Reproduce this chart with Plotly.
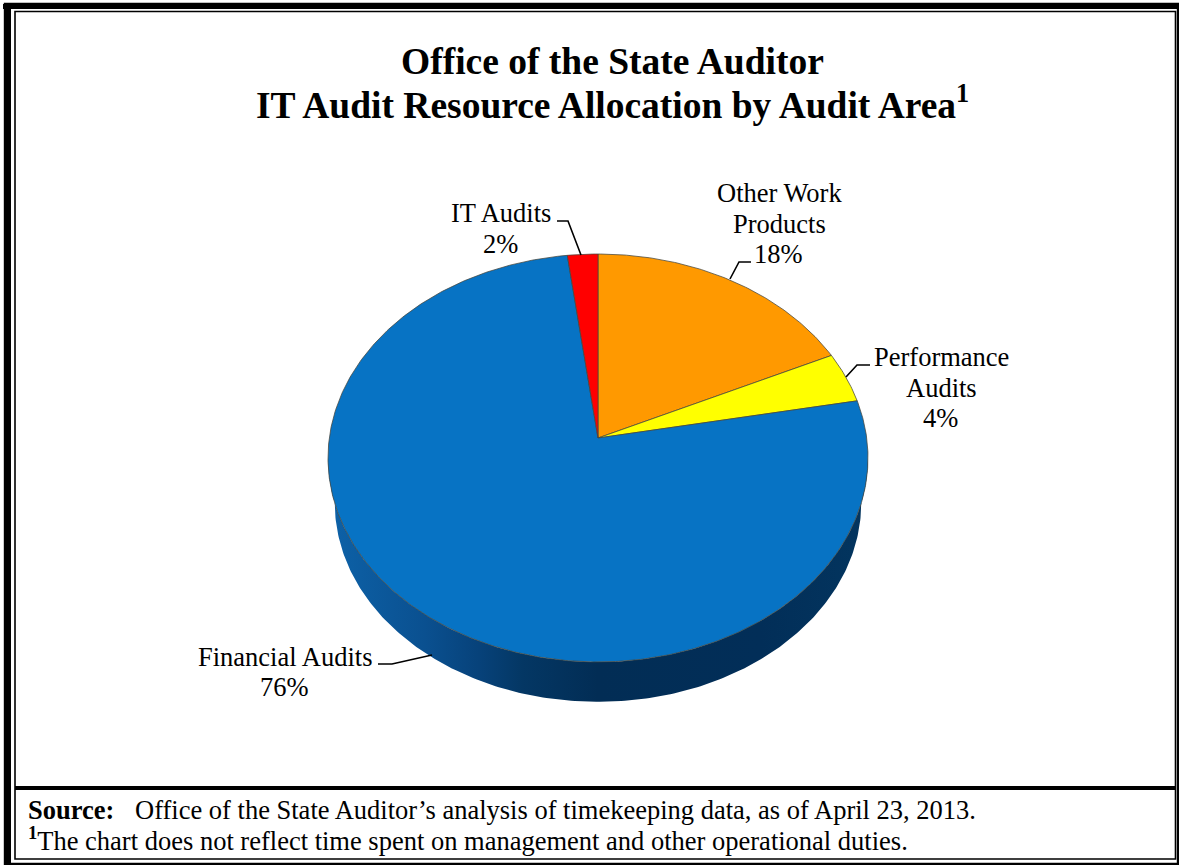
import numpy as np
import plotly.graph_objects as go

# Audit areas, clockwise from twelve o'clock
areas = ["Other Work Products", "Performance Audits", "Financial Audits", "IT Audits"]
shares = [18, 4, 76, 2]
slice_colors = ["#ff9900", "#ffff00", "#0773c4", "#ff0000"]

SERIF = "Liberation Serif"

# Tilted disc seen in perspective
CX, CY = 598, 438
A, B, K = 268.7, 202.0, 0.098
# The lower rim is slightly smaller and sits below the top face
LOWER_SCALE, LOWER_SHIFT = 0.975, 56.45


def rim(t):
    """Project angle t (radians clockwise from the far point) onto the page."""
    d = 1 + K * np.cos(t)
    return CX + A * np.sin(t) / d, CY - B * np.cos(t) / d


fig = go.Figure()

# Side wall: lower rim joined to the front half of the top face
t_side = np.arccos(-K)
t_front = np.linspace(t_side, 2 * np.pi - t_side, 240)
fx, fy = rim(t_front)
lx = CX + LOWER_SCALE * (fx - CX)
ly = LOWER_SCALE * fy + LOWER_SHIFT
fig.add_trace(go.Scatter(
    x=np.concatenate([lx, fx[::-1]]), y=np.concatenate([ly, fy[::-1]]),
    mode="lines", fill="toself",
    line=dict(width=0, color="#02305c"),
    fillgradient=dict(
        type="horizontal",
        colorscale=[[0, "#0d62a8"], [0.18, "#0a5090"], [0.28, "#07427a"], [0.36, "#043764"],
                    [0.5, "#022d55"], [0.8, "#022e58"], [1, "#03355f"]],
    ),
    hoverinfo="skip", showlegend=False,
))

# Top face wedges computed from the shares
edges = np.cumsum([0] + shares) / sum(shares) * 2 * np.pi
for name, share, color, t0, t1 in zip(areas, shares, slice_colors, edges[:-1], edges[1:]):
    t = np.linspace(t0, t1, max(8, int(share * 6)))
    px, py = rim(t)
    fig.add_trace(go.Scatter(
        x=np.concatenate([[CX], px, [CX]]), y=np.concatenate([[CY], py, [CY]]),
        mode="lines", fill="toself", fillcolor=color,
        line=dict(width=1, color="rgba(70,70,60,0.75)"),
        name=name, hovertemplate=f"{name}: {share}%<extra></extra>", showlegend=False,
    ))

# Double-rule page frame and the divider above the source note
rects = [
    (5, 4, 1178, 864, 2.4),
    (15, 11.5, 1175.5, 859, 1.6),
]
shapes = [
    dict(type="rect", x0=x0, y0=y0, x1=x1, y1=y1, xref="x", yref="y",
         line=dict(color="black", width=w), layer="above")
    for x0, y0, x1, y1, w in rects
]
# Heavier top and left outer rules
shapes += [
    dict(type="line", x0=3, x1=1178, y0=6.5, y1=6.5, line=dict(color="black", width=5)),
    dict(type="line", x0=8.5, x1=8.5, y0=4, y1=865, line=dict(color="black", width=5)),
    dict(type="line", x0=15, x1=1175, y0=788, y1=788, line=dict(color="black", width=4)),
]

# Leader lines from the labels to their slices
leaders = [
    "M557,221 L568,221 L581,255",
    "M751,262 L739,262 L730,279",
    "M870,365 L857,365 L846,377",
    "M378,664 L392,664 L432,655",
]
for path in leaders:
    shapes.append(dict(type="path", path=path, line=dict(color="black", width=1.6)))

# Text placed on the page
texts = [
    (612, 61, "<b>Office of the State Auditor</b>", 37.5, "center"),
    (612, 102, "<b>IT Audit Resource Allocation by Audit Area<sup>1</sup></b>", 37.5, "center"),
    (501, 212.6, "IT Audits", 26.5, "center"),
    (500, 243.6, "2%", 26.5, "center"),
    (779, 192.6, "Other Work", 26.5, "center"),
    (779, 223.6, "Products", 26.5, "center"),
    (778, 253.6, "18%", 26.5, "center"),
    (941.5, 356.6, "Performance", 26.5, "center"),
    (941, 388, "Audits", 26.5, "center"),
    (940, 418, "4%", 26.5, "center"),
    (285, 656.6, "Financial Audits", 26.5, "center"),
    (284.5, 686.6, "76%", 26.5, "center"),
    (26, 810, "<b>Source:</b>", 26.5, "left"),
    (133, 810, "Office of the State Auditor’s analysis of timekeeping data, as of April 23, 2013.", 26.5, "left"),
    (26, 839, "<b><sup>1</sup></b>The chart does not reflect time spent on management and other operational duties.", 26.5, "left"),
]
annotations = [
    dict(x=x, y=y, text=s, xref="x", yref="y", showarrow=False, xanchor=anchor, yanchor="middle",
         font=dict(family=SERIF, size=size, color="black"))
    for x, y, s, size, anchor in texts
]

fig.update_layout(
    width=1179, height=865, margin=dict(l=0, r=0, t=0, b=0),
    paper_bgcolor="white", plot_bgcolor="white", showlegend=False,
    xaxis=dict(range=[0, 1179], visible=False, fixedrange=True),
    yaxis=dict(range=[865, 0], visible=False, fixedrange=True),
    shapes=shapes, annotations=annotations,
)

fig.write_html("out.html", config=dict(displayModeBar=False))
